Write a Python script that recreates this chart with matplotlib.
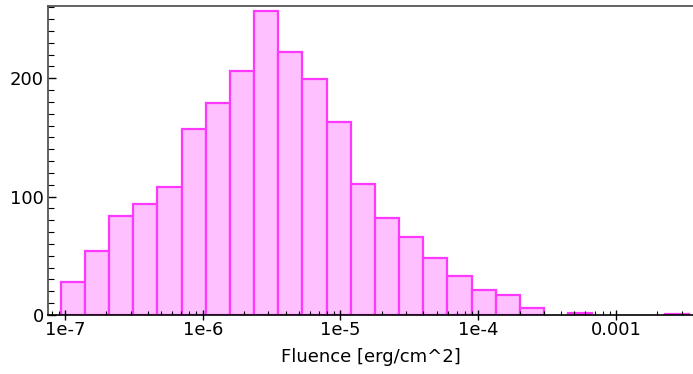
import numpy as np
import matplotlib
matplotlib.use("Agg")
import matplotlib.pyplot as plt
from matplotlib.ticker import LogLocator, FixedLocator, MultipleLocator, NullFormatter

# histogram counts per log-spaced fluence bin
counts = [28, 54, 84, 94, 108, 157, 179, 206, 257, 222, 199, 163, 111,
          82, 66, 48, 33, 21, 17, 6, 0, 2, 0, 0, 0, 1]
log_lo, log_hi = -7.031, -2.468
xtick_vals = [1e-7, 1e-6, 1e-5, 1e-4, 1e-3]
xtick_labels = ["1e-7", "1e-6", "1e-5", "1e-4", "0.001"]
ytick_vals = [0, 100, 200]

plt.rcParams["font.family"] = ["DejaVu Sans"]

edges = np.logspace(log_lo, log_hi, len(counts) + 1)
counts = np.array(counts)
keep = counts > 0

fig = plt.figure(figsize=(6.93, 3.74), dpi=100)
ax = fig.add_axes([48/693, 59/374, 645/693, 309/374])

ax.bar(edges[:-1][keep], counts[keep], width=np.diff(edges)[keep], align="edge",
       color="#ffc0ff", edgecolor="#ff38ff", linewidth=1.6)

ax.set_xscale("log")
ax.set_xlim(10**-7.1235, 10**-2.44)
ax.set_ylim(0, 261)

ax.xaxis.set_major_locator(FixedLocator(xtick_vals))
ax.set_xticklabels(xtick_labels)
ax.xaxis.set_minor_locator(LogLocator(base=10, subs=np.arange(2, 10)))
ax.xaxis.set_minor_formatter(NullFormatter())
ax.yaxis.set_major_locator(FixedLocator(ytick_vals))
ax.yaxis.set_minor_locator(MultipleLocator(10))

ax.tick_params(axis="x", which="major", direction="inout", length=7, width=1, labelsize=13, pad=1)
ax.tick_params(axis="x", which="minor", direction="in", length=3, width=0.8)
ax.tick_params(axis="y", which="major", direction="in", length=6, width=1, labelsize=13, pad=3)
ax.tick_params(axis="y", which="minor", direction="in", length=4, width=0.8)

for s in ["left", "top"]:
    ax.spines[s].set_color("#555555")
    ax.spines[s].set_linewidth(1.3)
ax.spines["bottom"].set_color("black")
ax.spines["bottom"].set_linewidth(1.2)
ax.spines["right"].set_visible(False)

ax.set_xlabel("Fluence [erg/cm^2]", fontsize=13, labelpad=6)

fig.savefig("out.png", dpi=100)
